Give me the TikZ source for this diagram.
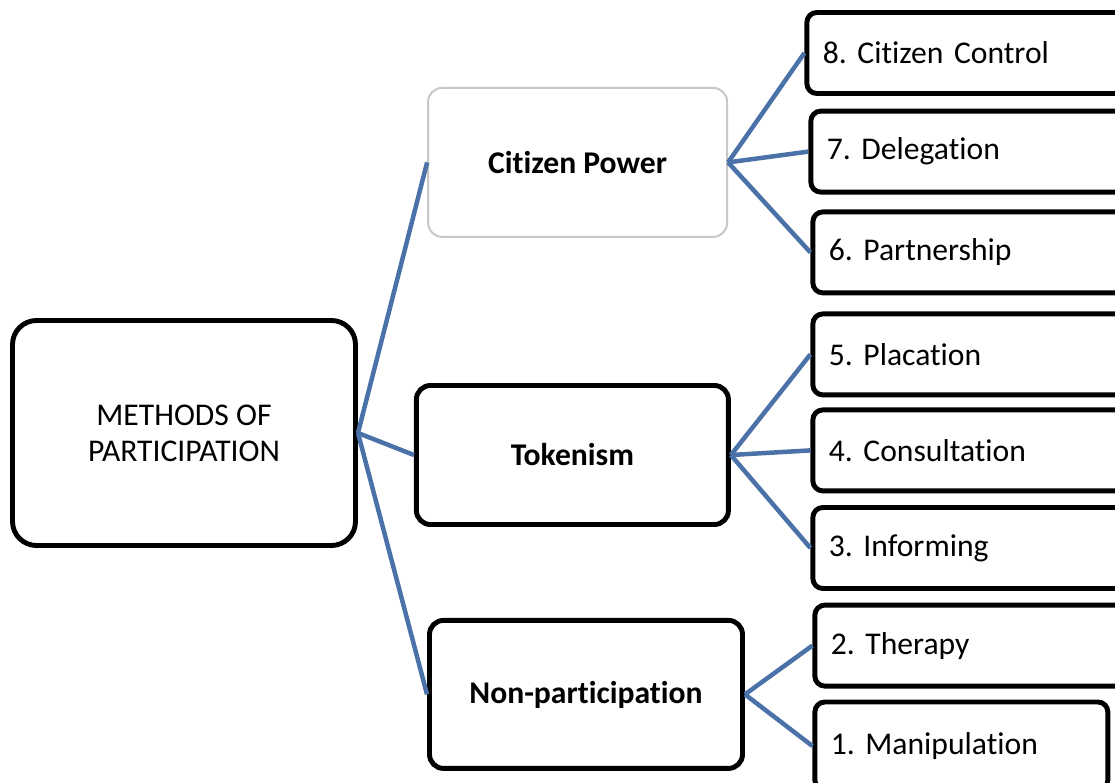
\documentclass[tikz,border=0pt]{standalone}
\usepackage{fontspec}
\setmainfont{Carlito}[Ligatures=CommonOff]
\frenchspacing
\definecolor{linkblue}{RGB}{74,114,168}
\begin{document}
\begin{tikzpicture}[every node/.style={draw=black, line width=3.5pt, fill=white, inner sep=0pt, font=\fontsize{22.5}{25.6}\selectfont},
		root/.style={rounded corners=0.6cm, align=center},
		group/.style={rounded corners=0.35cm, font=\fontsize{22.5}{25.6}\selectfont\bfseries},
		rung/.style={rounded corners=0.25cm, anchor=west, minimum height=2.025cm, text width=7.45cm, inner xsep=0.4cm, align=left},
		link/.style={draw=linkblue, line width=3.2pt}]
		\clip (0, 0) rectangle (27.875, -19.575);
		% left column
		\node[root, minimum width=8.575cm, minimum height=5.625cm] (root) at (4.6, -10.825) {METHODS OF\\PARTICIPATION};
		% middle column
		\node[group, draw=black!22, line width=1.4pt, minimum width=7.475cm, minimum height=3.725cm] (power) at (14.44, -4.06) {Citizen Power};
		\node[group, minimum width=7.8cm, minimum height=3.475cm] (token) at (14.31, -11.375) {Tokenism};
		\node[group, minimum width=7.825cm, minimum height=3.7cm] (non) at (14.65, -17.36) {Non-participation};
		% right column, the rungs
		\node[rung] (r8) at (20.11, -1.325) {8. Citizen Control};
		\node[rung] (r7) at (20.21, -3.79) {7. Delegation};
		\node[rung] (r6) at (20.26, -6.31) {6. Partnership};
		\node[rung] (r5) at (20.26, -8.86) {5. Placation};
		\node[rung] (r4) at (20.26, -11.26) {4. Consultation};
		\node[rung] (r3) at (20.26, -13.7) {3. Informing};
		\node[rung] (r2) at (20.31, -16.14) {2. Therapy};
		\node[rung, text width=6.525cm, minimum height=2.2cm] (r1) at (20.31, -18.65) {1. Manipulation};
		\draw[link] (root.east) -- (power.west);
		\draw[link] (root.east) -- (token.west);
		\draw[link] (root.east) -- (non.west);
		\draw[link] (power.east) -- (r8.west);
		\draw[link] (power.east) -- (r7.west);
		\draw[link] (power.east) -- (r6.west);
		\draw[link] (token.east) -- (r5.west);
		\draw[link] (token.east) -- (r4.west);
		\draw[link] (token.east) -- (r3.west);
		\draw[link] (non.east) -- (r2.west);
		\draw[link] (non.east) -- (r1.west);
	\end{tikzpicture}
\end{document}
